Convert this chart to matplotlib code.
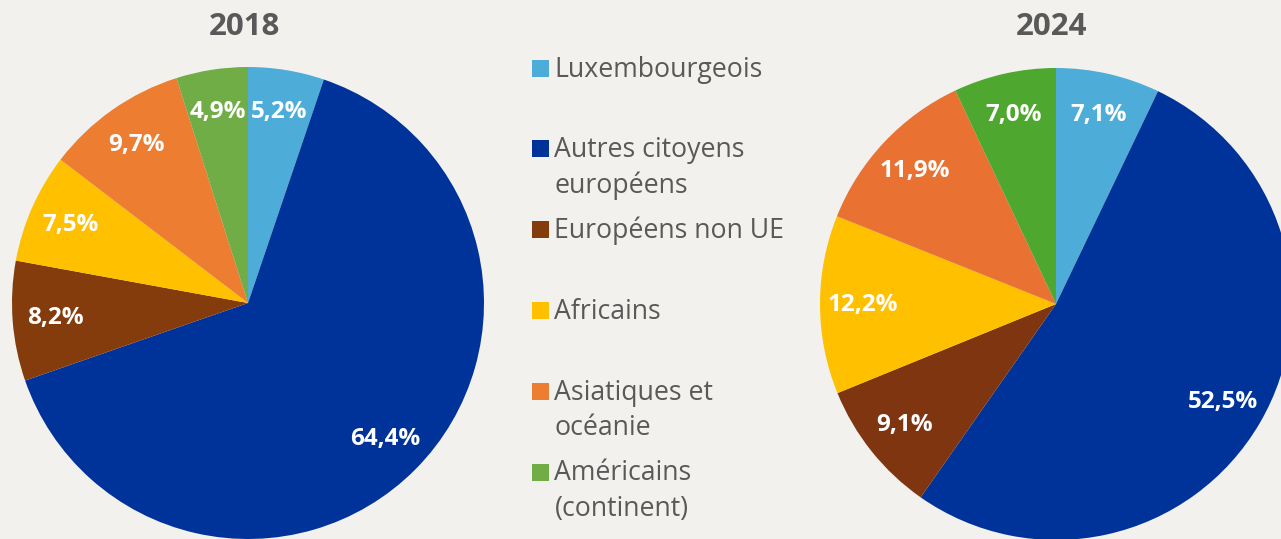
import matplotlib
matplotlib.use('Agg')
from matplotlib import pyplot as plt
from matplotlib.patches import Rectangle

plt.rcParams['font.family'] = ['Open Sans', 'DejaVu Sans']

# Data
categories = ['Luxembourgeois', 'Autres citoyens\neuropéens', 'Européens non UE',
              'Africains', 'Asiatiques et\nocéanie', 'Américains\n(continent)']
values_2018 = [5.2, 64.4, 8.2, 7.5, 9.7, 4.9]
values_2024 = [7.1, 52.5, 9.1, 12.2, 11.9, 7.0]
years = ['2018', '2024']

colors_2018 = ['#4eadd8', '#00339a', '#843c0c', '#ffc000', '#ed7d31', '#70ad47']
colors_2024 = ['#4eadd8', '#00339a', '#7f3510', '#ffc000', '#e97132', '#4ea72e']

W, H = 1281, 539
BG = '#f2f1ed'
GREY = '#595959'

fig = plt.figure(figsize=(W / 100, H / 100), dpi=100, facecolor=BG)


def fx(x):
    return x / W


def fy(y):
    return 1 - y / H


def draw_pie(cx, cy, r, values, colors, year):
    ax = fig.add_axes([(cx - r) / W, (H - cy - r) / H, 2 * r / W, 2 * r / H])
    ax.set_facecolor(BG)
    wedges, texts, autotexts = ax.pie(values, colors=colors, startangle=90,
                                      counterclock=False, radius=1,
                                      autopct='%1.1f', pctdistance=0.82,
                                      wedgeprops=dict(linewidth=0))
    for t, v in zip(autotexts, values):
        t.set_text('{:.1f}%'.format(v).replace('.', ','))
        t.set_color('white')
        t.set_fontsize(17.5)
        t.set_fontweight('bold')
    ax.set_xlim(-1, 1)
    ax.set_ylim(-1, 1)
    ax.axis('off')
    # title sits a few px left of the pie centre
    fig.text(fx(cx - 4), fy(35), year, ha='center', va='baseline',
             fontsize=22.5, fontweight='bold', color=GREY)


draw_pie(248, 303, 236, values_2018, colors_2018, years[0])
draw_pie(1056, 304, 236, values_2024, colors_2024, years[1])

# Legend (one slot every ~81 px)
for i, (label, color) in enumerate(zip(categories, colors_2018)):
    y = 68 + i * 80.8
    fig.add_artist(Rectangle((fx(532), fy(y + 8.5)), 17 / W, 17 / H,
                             transform=fig.transFigure, facecolor=color,
                             edgecolor='none'))
    for j, line in enumerate(label.split('\n')):
        fig.text(fx(554.5), fy(y + 8.5 + j * 35.5), line, ha='left',
                 va='baseline', fontsize=19.2, color=GREY)

fig.savefig('out.png', dpi=100, facecolor=BG)
